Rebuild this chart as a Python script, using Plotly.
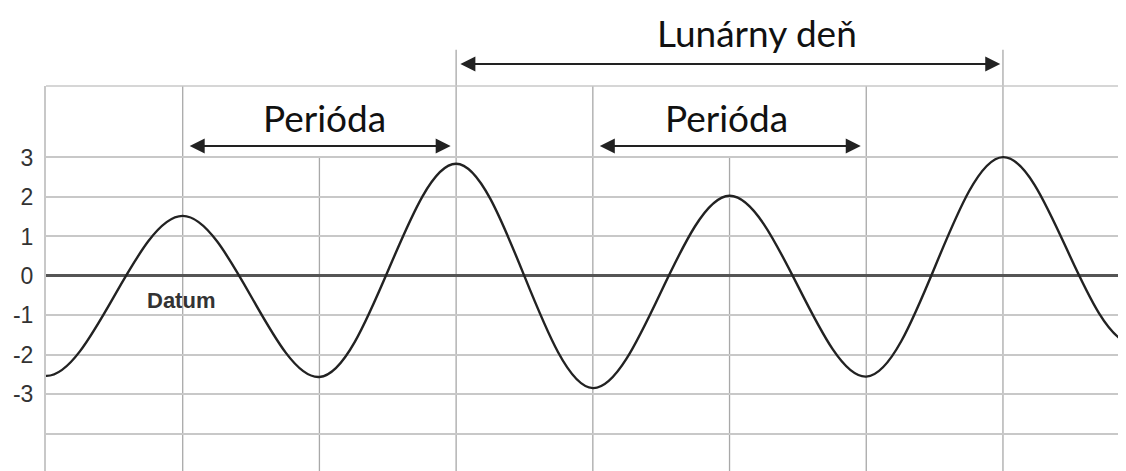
import plotly.graph_objects as go

# tide curve: high and low waters (grid units);
# first and last points lie just outside the visible window
t_points = [-1, 0, 1, 2, 3, 4, 5, 6, 7, 7.95, 9]
level = [2.0, -2.53, 1.52, -2.56, 2.84, -2.84, 2.03, -2.55, 3.01, -1.72, 2.5]

y_ticks = [-4, -3, -2, -1, 0, 1, 2, 3]
y_labels = ['', '-3', '-2', '-1', '0', '1', '2', '3']

full_lines = [1, 3, 4, 6, 7]   # vertical lines up to the top border
short_lines = [2, 5]           # vertical lines that stop at level 3
lunar_day = (3, 7)
periods = [(1, 3), (4, 6)]
period_text_x = [2.035, 4.975]

INK = '#222222'
GRID = '#c8c8c8'
VGRID = '#a8a8a8'
TXT_FONT = 'Lato, "Open Sans", sans-serif'

fig = go.Figure()
fig.add_trace(go.Scatter(
	x=t_points, y=level, mode='lines',
	line=dict(color=INK, width=2.4, shape='spline', smoothing=1),
	hoverinfo='skip', showlegend=False,
))

shapes = []
for xv in full_lines:
	top = 1.094 if xv in lunar_day else 1
	shapes.append(dict(type='line', xref='x', yref='paper', x0=xv, x1=xv, y0=0, y1=top,
		line=dict(color=VGRID, width=1.3), layer='below'))
for xv in short_lines:
	shapes.append(dict(type='line', xref='x', yref='y', x0=xv, x1=xv, y0=-6, y1=3,
		line=dict(color=VGRID, width=1.3), layer='below'))
# top border
shapes.append(dict(type='line', xref='paper', yref='paper', x0=0, x1=1, y0=1, y1=1,
	line=dict(color=GRID, width=1.5), layer='below'))

annotations = []
arrow_style = dict(showarrow=True, arrowside='end+start', arrowhead=2, startarrowhead=2,
	arrowsize=1.5, startarrowsize=1.5, arrowwidth=2, arrowcolor=INK, text='',
	standoff=0, startstandoff=0)
text_font = dict(family=TXT_FONT, size=37, color='#111111')
# lunar day arrow, above the plot area
annotations.append(dict(x=lunar_day[1] - 0.02, y=1.057, xref='x', yref='paper',
	ax=lunar_day[0] + 0.02, ay=0, axref='x', ayref='pixel', **arrow_style))
annotations.append(dict(x=sum(lunar_day) / 2 + 0.2, y=1.138, xref='x', yref='paper',
	xanchor='center', yanchor='middle', text='Lunárny deň', showarrow=False, font=text_font))
for (a, b), tx in zip(periods, period_text_x):
	annotations.append(dict(x=b - 0.04, y=3.29, xref='x', yref='y',
		ax=a + 0.04, ay=3.29, axref='x', ayref='y', **arrow_style))
	annotations.append(dict(x=tx, y=4.02, xref='x', yref='y',
		xanchor='center', yanchor='middle', text='Perióda', showarrow=False, font=text_font))
annotations.append(dict(x=0.99, y=-0.63, xref='x', yref='y', text='<b>Datum</b>', showarrow=False,
	xanchor='center', yanchor='middle',
	font=dict(family='Liberation Sans, Arial, sans-serif', size=22, color='#333333')))

# the page body keeps an 8px margin, so the figure is 8px smaller than the window
fig.update_layout(
	width=1118, height=463,
	margin=dict(l=38, r=0, t=78, b=0),
	paper_bgcolor='white', plot_bgcolor='white',
	shapes=shapes, annotations=annotations,
	xaxis=dict(range=[0, 7.9], showgrid=False, zeroline=False, showticklabels=False,
		showline=False, fixedrange=True),
	yaxis=dict(range=[-4.94, 4.81], tickvals=y_ticks, ticktext=y_labels,
		showgrid=True, gridcolor=GRID, gridwidth=1.5,
		zeroline=True, zerolinecolor='#555555', zerolinewidth=3,
		showline=True, linecolor=GRID, linewidth=2,
		ticks='', ticklabelstandoff=6,
		tickfont=dict(family='Liberation Sans, Arial, sans-serif', size=23, color='#333333'),
		fixedrange=True),
	showlegend=False,
)

fig.write_html('out.html')
